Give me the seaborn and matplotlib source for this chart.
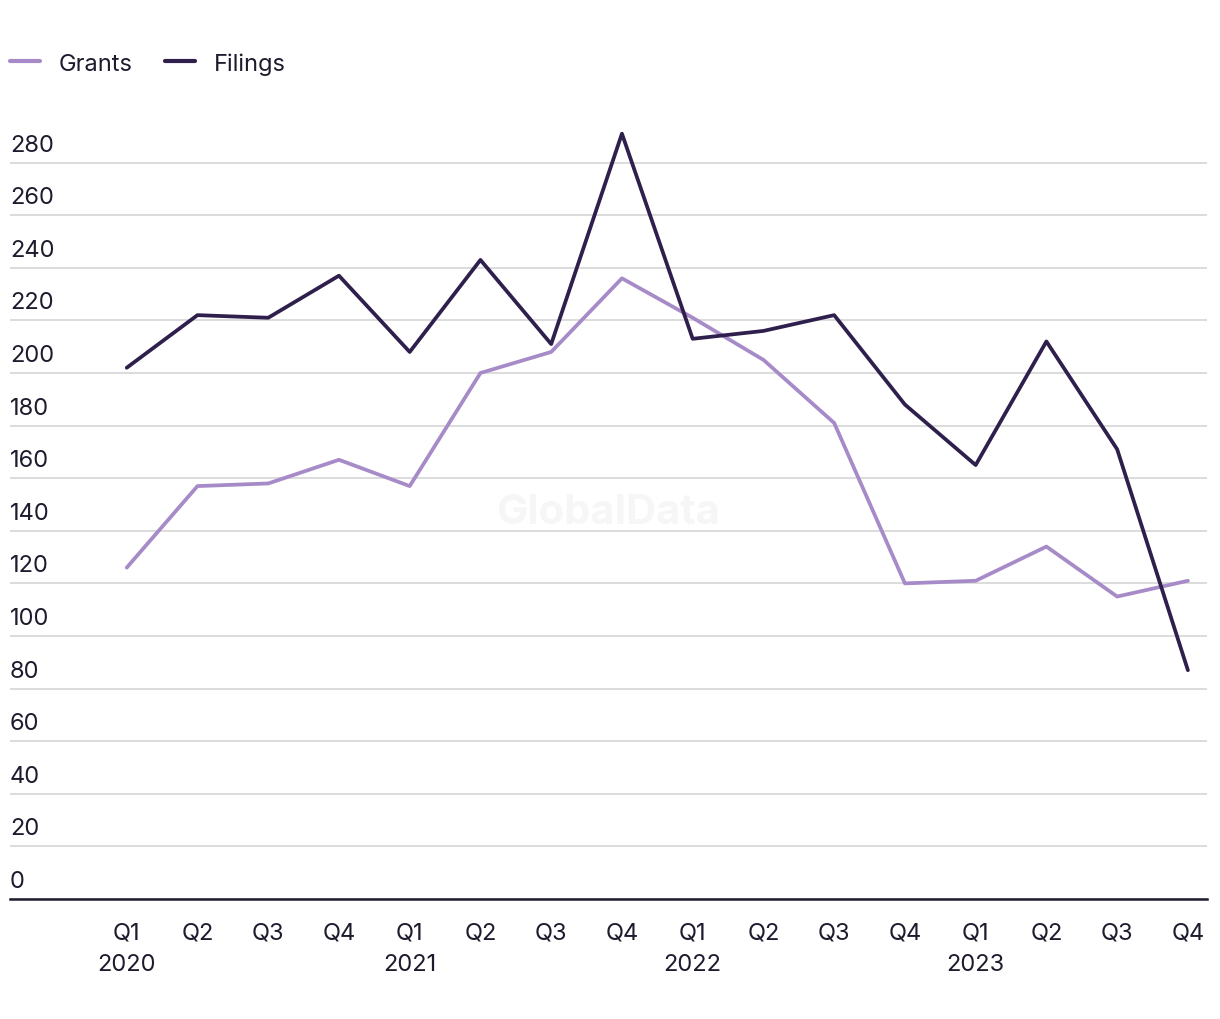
import numpy as np
import pandas as pd
import matplotlib
matplotlib.use("Agg")
import matplotlib.pyplot as plt
import matplotlib.transforms as mtransforms
from matplotlib.lines import Line2D
import seaborn as sns

# quarterly data
quarters = ["Q1\n2020", "Q2", "Q3", "Q4",
            "Q1\n2021", "Q2", "Q3", "Q4",
            "Q1\n2022", "Q2", "Q3", "Q4",
            "Q1\n2023", "Q2", "Q3", "Q4"]
grants = [126, 157, 158, 167, 157, 200, 208, 236, 221, 205, 181, 120, 121, 134, 115, 121]
filings = [202, 222, 221, 237, 208, 243, 211, 291, 213, 216, 222, 188, 165, 212, 171, 87]
yticks = list(range(0, 281, 20))

df = pd.DataFrame({
    "idx": list(range(len(quarters))) * 2,
    "value": grants + filings,
    "series": ["Grants"] * len(grants) + ["Filings"] * len(filings),
})

sns.set_theme(style="white")
plt.rcParams["font.family"] = ["Inter", "DejaVu Sans"]
text_col = "#1c1c2e"
fs = 17

fig = plt.figure(figsize=(12.2, 10.2), dpi=100)
ax = fig.add_axes([10 / 1220, 120 / 1020, 1197 / 1220, 789 / 1020])

# watermark
ax.text(0.5, 0.49, "GlobalData", transform=ax.transAxes, ha="center", va="center",
        fontsize=30, fontweight="bold", color="#f6f6f6", zorder=0)

sns.lineplot(data=df, x="idx", y="value", hue="series",
             palette={"Grants": "#a68bc8", "Filings": "#2e1f4c"},
             linewidth=2.7, ax=ax, legend=False, zorder=3)

ax.set_xlim(-1.65, 15.27)
ax.set_ylim(0, 300)
ax.set_yticks(yticks)
ax.yaxis.grid(True, color="#d9d9d9", linewidth=1.3)
ax.xaxis.grid(False)
ax.set_axisbelow(True)

for s in ["top", "right", "left"]:
    ax.spines[s].set_visible(False)
ax.spines["bottom"].set_color(text_col)
ax.spines["bottom"].set_linewidth(1.8)

# y labels sit above their gridlines, left aligned
ax.tick_params(axis="y", length=0, labelleft=False)
trans = mtransforms.blended_transform_factory(ax.transAxes, ax.transData)
for v in yticks:
    ax.text(0, v, str(v), transform=trans + mtransforms.ScaledTranslation(0, 5 / 72, fig.dpi_scale_trans),
            ha="left", va="bottom", fontsize=fs, color=text_col)

ax.set_xticks(range(len(quarters)))
ax.set_xticklabels(quarters, fontsize=fs, color=text_col, linespacing=1.55)
ax.tick_params(axis="x", length=0, pad=16)
ax.set_xlabel("")
ax.set_ylabel("")

# legend
handles = [Line2D([0], [0], color="#a68bc8", lw=3, solid_capstyle="round"),
           Line2D([0], [0], color="#2e1f4c", lw=3, solid_capstyle="round")]
fig.legend(handles, ["Grants", "Filings"], loc="upper left", bbox_to_anchor=(10 / 1220, 0.948),
           ncol=2, frameon=False, fontsize=fs, handlelength=1.25, handletextpad=0.8,
           columnspacing=1.4, borderpad=0, borderaxespad=0, labelcolor=text_col)

fig.savefig("out.png", dpi=100, facecolor="white")
